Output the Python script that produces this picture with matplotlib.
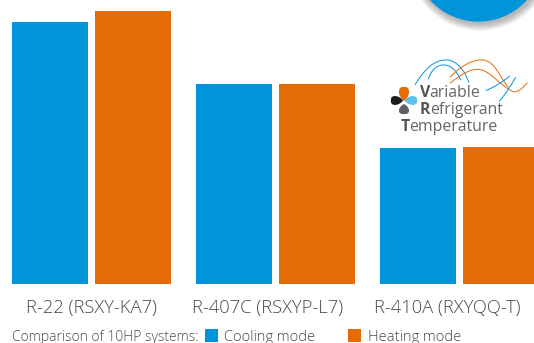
import numpy as np
import matplotlib
matplotlib.use("Agg")
import matplotlib.pyplot as plt
from matplotlib.patches import Circle, PathPatch, Rectangle
from matplotlib.path import Path

# ==============================
# 1. DATA (bar heights)
# ==============================
categories = ["R-22 (RSXY-KA7)", "R-407C (RSXYP-L7)", "R-410A (RXYQQ-T)"]
cooling = [262, 200, 136]
heating = [273, 200, 137]

BLUE = "#0095DA"
ORANGE = "#E56B06"
TEXT = "#4A4A4A"
plt.rcParams["font.family"] = ["Open Sans", "DejaVu Sans"]

W, H = 534, 343
BASE = 284   # pixel row of the bar baseline

fig = plt.figure(figsize=(W / 100, H / 100), dpi=100)
ax = fig.add_axes([0, 0, 1, 1])
ax.set_xlim(0, W)
ax.set_ylim(BASE - H, BASE)
ax.axis("off")


def py(y):
    # picture row -> data y
    return BASE - y


def zp(x, y):
    # logo sketch coordinates -> data
    return 370 + x / 3, BASE - y / 3


# ==============================
# 2. BARS
# ==============================
centres = np.array([91.5, 275.5, 459.5])
ax.bar(centres - 41.5, cooling, width=76, color=BLUE)
ax.bar(centres + 41.5, heating, width=76, color=ORANGE)

label_x = [91, 268, 447.5]
for x, name in zip(label_x, categories):
    ax.text(x, py(313), name, ha="center", va="baseline", fontsize=13.2,
            color=TEXT, fontweight="light")

# ==============================
# 3. BADGE TOP RIGHT (soft shadow, then circle)
# ==============================
for i in range(7):
    ax.add_patch(Circle((480, py(-43.3 + 2)), 65 + 7 - i * 1.1, color="#555555", alpha=0.07, lw=0))
ax.add_patch(Circle((478.5, py(-43.3)), 65, color=BLUE, lw=0))

# ==============================
# 4. LOGO
# ==============================
curves = [
    (BLUE, [(135, 255), (165, 205), (195, 178), (230, 180), (262, 182), (283, 210), (297, 248)]),
    (BLUE, [(175, 238), (185, 205), (205, 193), (225, 195), (245, 197), (262, 215), (272, 240)]),
    (ORANGE, [(240, 232), (275, 195), (310, 178), (340, 180), (375, 185), (385, 225), (415, 262)]),
    (ORANGE, [(240, 250), (270, 225), (300, 207), (325, 208), (365, 212), (385, 255), (430, 275)]),
    (ORANGE, [(430, 275), (445, 278), (460, 262), (472, 248)]),
    (BLUE, [(347, 272), (372, 262), (400, 245), (420, 227)]),
    (BLUE, [(387, 305), (405, 285), (422, 258), (437, 232)]),
]
for col, pts in curves:
    verts = [zp(*p) for p in pts]
    codes = [Path.MOVETO] + [Path.CURVE4] * (len(verts) - 1)
    ax.add_patch(PathPatch(Path(verts, codes), fc="none", ec=col, lw=0.7))

# tip (px), direction, length, half width, colour
petals = [((404, 101), (0, -1), 14, 5.2, ORANGE),
          ((403, 100.5), (-1, 0), 12, 4.6, "#1E1A20"),
          ((404.5, 100.5), (1, 0), 12.5, 4.6, "#5CC0EC"),
          ((404, 104), (0, 1), 10, 5.2, "#5F6062")]
for (tx, ty), (dx, dy), length, hw, col in petals:
    tip = np.array([tx, ty], dtype=float)
    d = np.array([dx, dy], dtype=float)
    n = np.array([-dy, dx], dtype=float)
    pts = [tip,
           tip + 0.35 * length * d + 1.3 * hw * n,
           tip + 1.1 * length * d + 1.3 * hw * n,
           tip + length * d,
           tip + 1.1 * length * d - 1.3 * hw * n,
           tip + 0.35 * length * d - 1.3 * hw * n,
           tip]
    verts = [(p[0], py(p[1])) for p in pts]
    codes = [Path.MOVETO] + [Path.CURVE4] * 6
    ax.add_patch(PathPatch(Path(verts, codes), fc=col, ec="none"))

logo_lines = [((150, 291), "V", "ariable"),
              ((150, 342), "R", "efrigerant"),
              ((92, 393), "T", "emperature")]
for (x, y), first, rest in logo_lines:
    x0, y0 = zp(x, y)
    t = ax.text(x0, y0, first, fontsize=11.4, fontweight="bold", color="#555555", va="baseline")
    fig.canvas.draw()
    bb = t.get_window_extent()
    ax.text(bb.x1 - 0.7, y0, rest, fontsize=11.4, color="#666666", va="baseline")

# ==============================
# 5. LEGEND ROW
# ==============================
ax.text(12, py(341), "Comparison of 10HP systems:", fontsize=10.0, color=TEXT,
        fontweight="light", va="baseline")
ax.add_patch(Rectangle((205, py(342)), 12.5, 13, color=BLUE, lw=0))
ax.text(224, py(341), "Cooling mode", fontsize=10.5, color=TEXT, fontweight="light", va="baseline")
ax.add_patch(Rectangle((348, py(342)), 13, 13, color=ORANGE, lw=0))
ax.text(368, py(341), "Heating mode", fontsize=10.5, color=TEXT, fontweight="light", va="baseline")

fig.savefig("out.png", dpi=100)
